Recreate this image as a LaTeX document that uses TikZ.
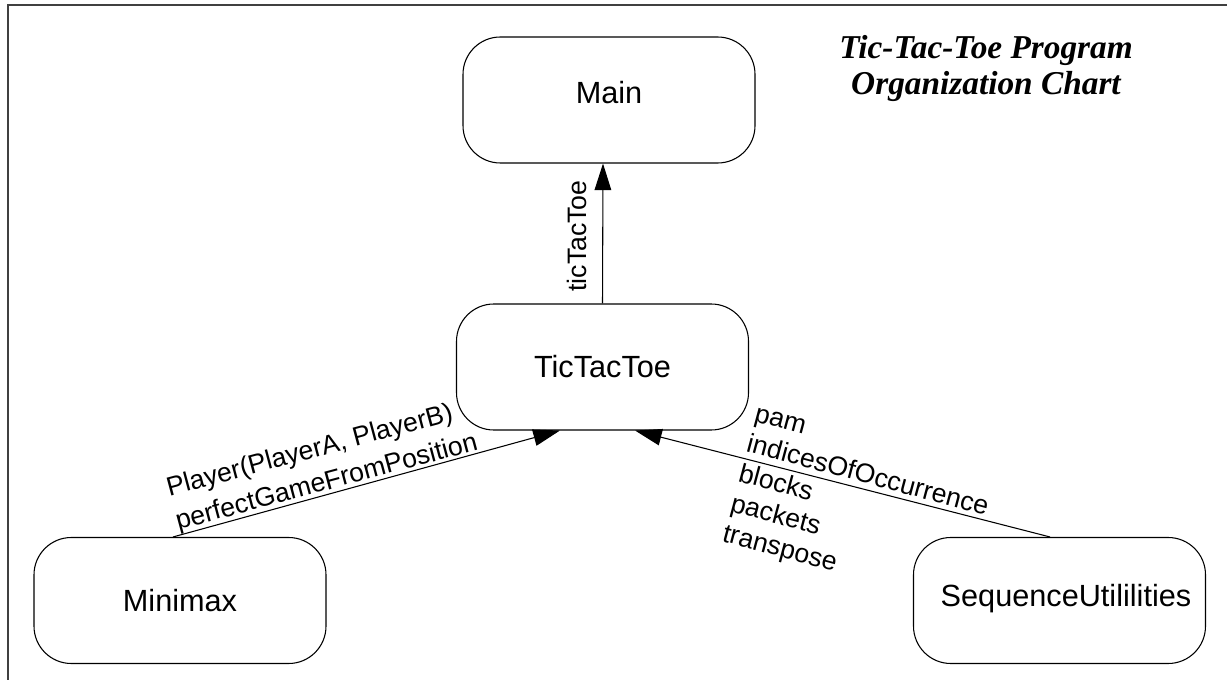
\documentclass[tikz,border=0pt]{standalone}
\usepackage{fontspec}
\setmainfont{Liberation Sans}
\newfontfamily\titlefont{Liberation Serif}
\usetikzlibrary{arrows.meta}
\tikzset{
  modbox/.style={draw, rounded corners=28pt, minimum width=219pt, minimum height=94.5pt,
    inner sep=0pt, line width=0.8pt, font=\fontsize{23}{28}\selectfont},
  arr/.style={line width=0.8pt, -{Triangle[length=20pt,width=12.5pt]}},
  lbl/.style={font=\fontsize{20}{24}\selectfont, inner sep=0pt, align=left},
}
\begin{document}
\begin{tikzpicture}[x=0.75pt,y=-0.75pt]
\useasboundingbox (0,0) rectangle (1227,680);
\draw[line width=1.3pt, black!75] (8,700) -- (8,5) -- (1240,5);
\node[font=\titlefont\bfseries\itshape\fontsize{25}{27}\selectfont, align=center, anchor=base, inner sep=0pt] (title) at (986,95) {Tic-Tac-Toe Program\\Organization Chart};
\node[modbox] (main) at (609,100) {};
\node[font=\fontsize{23}{28}\selectfont] (maintxt) at (609,93) {Main};
\node[modbox] (ttt) at (602.5,367) {TicTacToe};
\node[modbox] (minimax) at (180,600.5) {Minimax};
\node[modbox] (seq) at (1059.5,600.5) {};
\node[font=\fontsize{23}{28}\selectfont] (seqtxt) at (1066,599) {SequenceUtililities};
\draw[arr] (ttt.north) -- ([xshift=-4.5pt]main.south);
\draw[arr] ([xshift=-5.25pt]minimax.north) -- ([xshift=-31.9pt]ttt.south);
\draw[arr] ([xshift=-7.1pt]seq.north) -- ([xshift=24.4pt]ttt.south);
\node[lbl, rotate=90] (l1) at (577,236) {ticTacToe};
\node[lbl, rotate=15, anchor=base west, font=\fontsize{20}{26}\selectfont] (l2) at (178,530) {Player(PlayerA, PlayerB)\\perfectGameFromPosition};
\node[lbl, rotate=-15, anchor=base west, font=\fontsize{20}{23.3}\selectfont] (l3) at (721,541) {pam\\indicesOfOccurrence\\blocks\\packets\\transpose};
\end{tikzpicture}
\end{document}
